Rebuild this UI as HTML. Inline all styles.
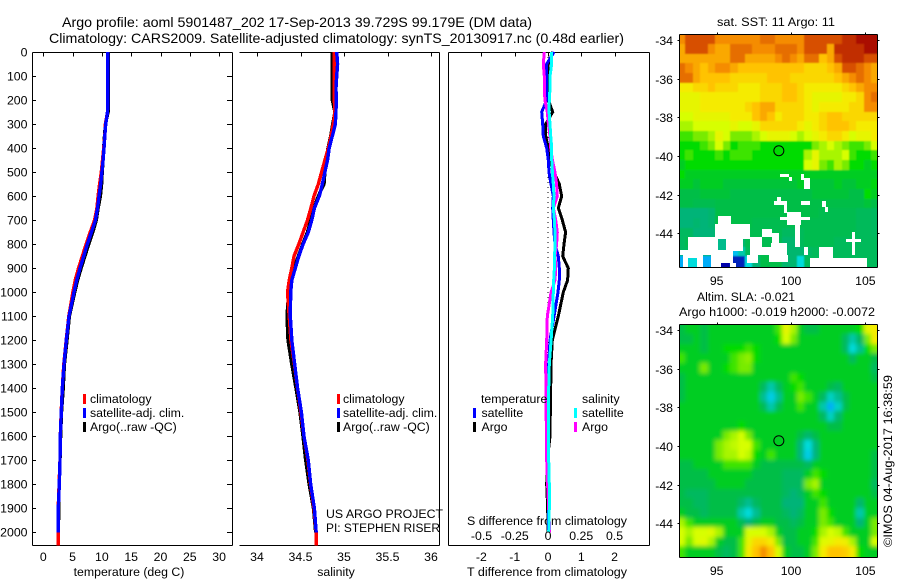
<!DOCTYPE html>
<html>
<head>
<meta charset="utf-8">
<title>Argo profile</title>
<style>
html,body{margin:0;padding:0;background:#fff;}
svg{display:block;}
text{font-family:"Liberation Sans",sans-serif;font-size:12.3px;fill:#000;}
</style>
</head>
<body>
<svg id="chart" xmlns="http://www.w3.org/2000/svg" width="900" height="580" viewBox="0 0 900 580">
  <defs>
    <filter id="sst-smooth" x="-5%" y="-5%" width="110%" height="110%"><feGaussianBlur stdDeviation="0.9"/></filter>
    <filter id="sla-smooth" x="-5%" y="-5%" width="110%" height="110%"><feGaussianBlur stdDeviation="2.2"/></filter>
  </defs>
  <rect width="900" height="580" fill="#fff"/>
  <text x="62" y="27" style="font-size:14px" textLength="470" lengthAdjust="spacingAndGlyphs">Argo profile: aoml 5901487_202 17-Sep-2013 39.729S 99.179E (DM data)</text>
  <text x="49" y="43" style="font-size:14px" textLength="575" lengthAdjust="spacingAndGlyphs">Climatology: CARS2009. Satellite-adjusted climatology: synTS_20130917.nc (0.48d earlier)</text>
  <text x="717" y="26" textLength="118" lengthAdjust="spacingAndGlyphs">sat. SST: 11 Argo: 11</text>
  <text x="697" y="301" textLength="98" lengthAdjust="spacingAndGlyphs">Altim. SLA: -0.021</text>
  <text x="679" y="316" textLength="196" lengthAdjust="spacingAndGlyphs">Argo h1000: -0.019 h2000: -0.0072</text>
  <text transform="translate(892,547) rotate(-90)" textLength="172" lengthAdjust="spacingAndGlyphs">©IMOS 04-Aug-2017 16:38:59</text>
  <text x="129" y="576" text-anchor="middle">temperature (deg C)</text>
  <text x="336" y="576" text-anchor="middle">salinity</text>
  <text x="467" y="576" textLength="160" lengthAdjust="spacingAndGlyphs">T difference from climatology</text>
  <text x="467" y="525" textLength="160" lengthAdjust="spacingAndGlyphs">S difference from climatology</text>
  <text x="326" y="518" textLength="117" lengthAdjust="spacingAndGlyphs">US ARGO PROJECT</text>
  <text x="326" y="532" textLength="114" lengthAdjust="spacingAndGlyphs">PI: STEPHEN RISER</text>
</svg>
<script>
// ---------- profile data ----------
const depthLevels = [0,50,100,150,200,250,300,350,400,450,500,550,600,650,700,750,800,850,900,950,1000,1100,1200,1300,1400,1500,1600,1700,1800,1900,2000,2055];
const depthTicks = [0,100,200,300,400,500,600,700,800,900,1000,1100,1200,1300,1400,1500,1600,1700,1800,1900,2000];
const temperatureTicks = [0,5,10,15,20,25,30];
const salinityTicks = [34,34.5,35,35.5,36];
const salinityTickLabels = ['34','34.5','35','35.5','36'];
const tempDiffTicks = [-2,-1,0,1,2];
const salDiffTicks = [-0.5,-0.25,0,0.25,0.5];
const salDiffTickLabels = ['-0.5','-0.25','0','0.25','0.5'];

const tempClimatology = [11,10.95,11,11,11,10.95,10.6,10.5,10.3,10.1,9.9,9.6,9.35,9.15,8.75,8.0,7.3,6.65,6.0,5.45,5.05,4.35,3.9,3.5,3.25,3.05,2.9,2.85,2.7,2.55,2.55,2.55];
const tempSatellite = [11,11,11,11,11,10.95,10.65,10.5,10.35,10.2,10,9.8,9.5,9.25,8.9,8.2,7.5,6.9,6.26,5.7,5.24,4.39,3.93,3.53,3.25,3.07,2.9,2.85,2.73,2.56,2.56];
const tempArgo = [11.05,11.05,11.05,11.05,11.05,11.05,10.6,10.45,10.3,10.2,10.05,9.95,9.75,9.35,9.05,8.45,7.75,7.1,6.45,5.85,5.35,4.45,4.05,3.6,3.4,3.1,2.95,2.85,2.7,2.65,2.56];

const salClimatology = [34.889,34.889,34.889,34.889,34.889,34.897,34.877,34.85,34.82,34.78,34.743,34.705,34.655,34.62,34.58,34.53,34.48,34.425,34.4,34.37,34.35,34.37,34.39,34.43,34.465,34.505,34.54,34.585,34.615,34.655,34.68,34.68];
const salSatellite = [34.916,34.927,34.916,34.908,34.91,34.908,34.9,34.866,34.83,34.81,34.78,34.75,34.716,34.66,34.63,34.59,34.53,34.48,34.44,34.4,34.387,34.383,34.4,34.433,34.467,34.51,34.54,34.59,34.617,34.66,34.68];
const salArgo = [34.866,34.866,34.866,34.866,34.866,34.895,34.87,34.847,34.816,34.793,34.78,34.77,34.705,34.655,34.617,34.58,34.525,34.475,34.425,34.387,34.364,34.345,34.356,34.4,34.448,34.494,34.529,34.56,34.6,34.65,34.675];

const tempDiffArgo = [0.14,0.01,-0.02,-0.02,0.01,0.14,-0.07,-0.07,0.01,0.04,0.18,0.34,0.41,0.31,0.43,0.53,0.48,0.44,0.61,0.59,0.46,0.31,0.13,0.09,0.08,0.07,0.06,-0.02,-0.04,-0.01,0];
const tempDiffSatellite = [0.18,-0.04,-0.04,-0.04,-0.04,-0.19,-0.16,-0.14,-0.04,0.01,0.03,0.09,0.16,0.14,0.16,0.18,0.21,0.31,0.34,0.34,0.30,0.18,0.06,0.02,0.01,0.01,0.01,0.01,0.01,0.01,0.01];
const salDiffSatellite = [0.028,0.028,0.015,0.015,0.01,0.008,0.015,0.02,0.028,0.028,0.033,0.04,0.045,0.04,0.048,0.053,0.053,0.05,0.048,0.043,0.04,0.035,0.023,0.01,0.005,0.003,0.003,0.005,0.01,0.01,0.005];
const salDiffArgo = [-0.028,-0.035,-0.028,-0.028,-0.023,-0.005,0.003,0.015,0.02,0.033,0.053,0.065,0.07,0.04,0.058,0.07,0.065,0.053,0.058,0.053,0.023,-0.005,-0.01,-0.018,-0.015,-0.015,-0.01,-0.01,-0.003,0.005,0.013];

// ---------- map data ----------
const lonTicks = [95,100,105];
const latTicks = [-34,-36,-38,-40,-42,-44];
const profileLon = 99.179;
const profileLat = -39.729;

// sea surface temperature, deg C, 0.5 degree cells, north to south, west to east
const sstValues = [
[13.5,14,14,14,14,13.5,13.5,13.5,13.5,13.5,13.5,13.75,13.75,13.5,13.5,13.5,13.5,14,14,14,14,14,14.25,14.25,14.5,14.5,14.5],
[13.25,14,14,14,13.5,13.25,13.25,13.75,13.75,13.75,13.5,13.5,13.5,13.75,13.75,13.75,13.5,14,14,14,13.25,14.25,14.25,14.25,14.25,14.5,14.5],
[13.25,13.25,13.25,13.25,13.25,13.25,13.25,13.75,13.75,13.25,13.25,13.25,13.25,13.5,13.75,13.5,13.25,13.75,13.75,13,13.25,14,14.25,14.25,14.25,14,14],
[13.75,13.5,13.25,13,13.25,13.5,13.5,13.25,13,13,13,13,13,13,13,13,13,12.75,12.75,12.75,13,13.25,14,14,13.75,13.5,13.25],
[13.75,13.75,13.25,13,13,13,13,12.75,12.75,12.75,12.75,12.75,13,13,13,12.75,12.75,12.75,12.75,12.75,12.75,13,13.25,13.5,13.75,13.5,13.25],
[12.5,12.5,12.75,12.75,13,12.75,12.75,12.75,12.5,12.5,12.5,12.75,12.75,12.75,13,13,12.75,12.5,12.5,12.5,12.5,12.5,12.75,13,13.25,13.5,13.5],
[12.25,12.25,12.25,12.5,12.5,12.5,12.5,12.5,12.5,12.5,12.5,12.75,12.75,12.75,13,13,12.75,12.5,12.25,12.25,12.25,12.25,12.5,12.5,12.75,13.5,13.75],
[12.25,12.25,12.25,12.5,12.5,12.5,12.5,12.5,12.5,12.75,13,13.25,13.25,12.75,12.75,12.75,12.75,12.5,12.25,12.5,12.5,12.5,12.5,12.75,12.75,13.5,13.5],
[12,12,12.25,12.25,12.25,12.25,12.25,12.5,12.5,12.5,13,13.25,13,12.5,12.75,12.75,12.75,12.5,12.5,12.75,13,13,12.75,12.75,12.75,12.75,12.75],
[11.75,11.75,12,12,12,12,12,12.25,12,12,12.25,12.75,12.75,12.75,12.75,12.75,12.5,12.25,12.5,12.75,13,13,13,12.75,12.5,12.5,12.5],
[11.25,11.25,11.5,11.5,11.75,12.25,12,11.5,11.5,11.5,11.75,12,12.25,12.25,12.25,12,11.75,12,12.25,12.5,12.75,12.75,12.5,12,12.25,12.25,12.5],
[11,11,11,11.25,11.5,12,11.5,11,11.25,11.25,11.25,11,11,11,11,11,11,11,11.5,11.75,12,11.75,11.5,11.25,11.25,11.5,12],
[11,11.25,11,11,11,11.25,11,11.25,11.25,11.25,11,11,11,11,11,11,11,11.75,12.25,11.75,11.75,11.75,12,11.25,11,11,11.25],
[10.75,11,11,11,11,11,11,11,11,11,11,11,11,11,11,11,11,12,12.25,11.5,11.25,11.75,11.5,11,11,10.75,11],
[11,10.75,10.75,10.75,10.75,10.75,10.75,10.75,10.75,10.75,10.75,10.75,10.75,10.75,10.75,10.75,10.75,10.75,10.75,10.75,10.75,10.75,10.75,10.75,10.75,10.75,10.75],
[10.75,10.75,10.6,10.75,10.75,10.75,10.6,10.6,10.6,10.6,10.6,10.6,10.6,10.6,10.6,10.6,10.75,10.6,10.6,10.6,10.6,10.75,10.6,10.6,10.75,10.75,10.9],
[10.5,10.5,10.5,10.6,10.6,10.6,10.6,10.5,10.5,10.5,10.5,10.5,10.5,10.5,10.5,10.5,10.5,10.5,10.6,10.6,10.6,10.6,10.6,10.5,10.5,11,10.75],
[10.5,10.5,10.4,10.4,10.4,10.5,10.5,10.5,10.5,10.5,10.5,10.5,10.5,10.5,10.5,10.5,10.5,10.5,10.5,10.5,10.5,10.5,10.5,10.5,10.5,10.6,10.5],
[10,10,10,10,10.1,10.5,10.5,10.5,10.5,10.5,10.5,10.5,10.5,10.5,10.5,10.5,10.5,10.5,10.5,10.4,10.4,10.4,10.4,10.4,10.3,10.3,10.25],
[10,10,10.1,10,10.1,10.5,10.5,10.5,10.5,10.5,10.4,10.4,10.4,10.4,10.4,10.4,10.4,10.4,10.4,10.4,10.4,10.4,10.4,10.4,10.3,10.3,10.25],
[10.25,10.25,10,10,10,10.4,10.4,10.4,10.4,10.4,10.4,10.4,10.4,10.4,10.25,10.25,10.3,10.4,10.4,10.4,10.4,10.4,10.4,10.4,10.3,10.3,10.25],
[10.25,10.4,10.4,10.4,10.4,9.9,9.9,10.4,10.1,10.4,10.4,10.4,10.4,10.4,10.1,10.1,10.3,10.4,10.4,10.4,10.4,10.3,10.3,10.3,10.3,10.3,10.3],
[10.25,10.25,10.25,10.25,10.25,9.9,9.9,9.25,9.75,10.3,10.3,10.4,10.4,10.4,10.1,10.1,10.1,10.2,10.3,10.3,10.3,10.3,10.3,10.3,10.3,10.3,10.3],
[9.1,9.5,9.5,9.1,9.1,8.5,8.5,8.6,8.6,9.5,10,10.5,10.5,10.5,10.1,10.1,9.5,10.3,10.3,10.3,10.3,10.3,10.3,10.3,10.3,10.3,10.3]
];

// cloud gaps in the SST field: [west lon, east lon, north lat, south lat]
const sstGaps = [
[99.25,99.85,-40.93,-41.1],[99.85,100.05,-41.1,-41.3],[100.7,100.9,-40.93,-41.25],[100.9,101.3,-41.15,-41.7],
[98.85,99.7,-42.33,-42.53],[99.05,99.3,-42.1,-42.33],[99.55,99.7,-42.53,-42.97],[99.25,101.25,-43.14,-43.3],
[99.7,100.7,-42.88,-43.57],[100.7,101.25,-42.33,-42.53],[102.1,102.35,-42.33,-42.62],[102.25,102.5,-42.62,-42.88],
[95.1,95.95,-43.1,-43.52],[94.9,97.25,-43.52,-44.17],[93.1,95.1,-44.17,-44.86],[95.1,95.65,-44.17,-44.3],
[95.65,96.75,-44.17,-44.9],[96.75,97.25,-44.17,-44.3],[97.25,98.05,-44.17,-45.12],[92.5,96.1,-44.86,-45.12],
[92.75,93.1,-45.12,-45.72],[93.1,93.65,-45.12,-45.29],[93.65,94.1,-45.12,-45.72],[94.65,96.1,-45.12,-45.55],
[94.65,95.3,-45.55,-45.72],[95.9,96.3,-45.55,-45.72],[97.05,97.8,-45.12,-45.55],[98.05,98.65,-44.69,-45.12],
[98.05,98.7,-43.8,-44.17],[98.7,99.2,-43.97,-44.52],[98.65,99.7,-44.52,-45.12],[98.5,99.8,-45.12,-45.5],
[100.25,100.6,-43.57,-44.69],[100.85,101.15,-44.69,-45.12],[101.9,102.85,-44.72,-45.29],[101.3,105.1,-45.29,-45.72],
[104.1,104.3,-43.91,-45.12],[103.7,104.7,-44.31,-44.47]
];

// sea level anomaly, cm, 0.5 degree cells, north to south, west to east
const slaValues = [
[-4,-2,-2,-4,-2,-2,-2,-2,-2,-2,-2,-2,-2,2,10,6,-2,-4,-4,-2,-2,-2,-2,-2,0,10,12],
[-4,-4,-2,-4,-2,-2,-2,-2,-2,-2,-2,-2,-2,0,8,4,-2,-2,-2,-2,-2,-2,-6,-10,-6,4,12],
[-2,-2,-2,-4,-2,-2,0,0,0,2,0,-2,-2,-2,-2,-2,-2,-2,-2,-2,-2,-2,-6,-12,-9,0,4],
[2,-2,-2,-2,-2,-2,-2,2,4,5,0,-2,-2,-2,-2,-2,-2,-2,-2,-2,-2,-2,-2,-6,-2,-2,-4],
[-2,-2,-2,4,-2,-2,0,2,4,4,-2,-2,-2,-2,-2,-2,-2,-2,-2,-2,-2,-2,-2,-2,-2,-2,-6],
[-4,-2,-2,-2,-2,-2,-2,-2,-2,-2,-2,-2,-2,-2,-2,2,0,-2,-2,-2,-2,-2,-2,-2,-2,-2,-4],
[-4,-2,-2,-2,-2,-2,-2,-2,-2,-2,-2,-6,-10,-6,-2,0,2,-2,-2,-2,-4,-6,-2,-2,-2,-2,-2],
[-4,-2,-2,-2,-2,-2,-2,-2,-2,-2,-2,-9,-13,-9,-2,-2,4,2,-2,-6,-11,-9,-4,-2,-2,-2,-2],
[-2,-2,-2,-2,-2,-2,-2,-2,-2,-2,-2,-5,-10,-5,-2,-2,2,-2,-2,-10,-15,-11,-4,-2,-2,-2,-2],
[-2,-2,-2,-2,-2,-2,-2,-2,-2,-2,-2,-2,-2,-2,-2,-2,-2,-2,-2,-6,-11,-7,-2,-2,-2,-2,-2],
[-2,-2,-2,-2,-2,-2,-2,-2,0,-2,-2,-2,-2,-2,-2,-2,-2,-2,-2,-2,-4,-4,-2,-2,-2,-2,-2],
[-2,-2,-2,-2,-2,-2,4,6,8,4,-2,-2,-2,-2,-2,-2,-4,-7,-4,-2,-2,-2,-2,-2,-2,-2,-2],
[-2,-2,-2,-2,-2,4,6,7,8,8,2,-2,-2,-2,-2,-2,-8,-12,-8,-2,-2,-2,-2,-2,-2,-2,-2],
[-2,-2,-2,-2,-2,4,6,6,8,7,0,-2,2,-2,-2,-2,-8,-13,-8,-2,-2,-2,-2,-2,-2,-2,-4],
[-4,-4,-2,-2,-2,-2,2,2,2,2,-2,-4,-4,-4,-4,-4,-4,-6,-2,-2,-2,-2,-2,-2,-2,-2,-4],
[-4,-4,-4,-4,-2,-2,-2,-2,-2,-2,-4,-4,-4,-4,-6,-6,-6,-2,2,0,-2,-2,-2,-2,-2,-2,-4],
[-4,-4,-4,-4,-4,-2,-2,-2,-2,-4,-4,-4,-4,-4,-6,-6,-6,4,6,-2,-2,-2,-2,-2,-2,-2,-6],
[-4,-6,-6,-6,-4,-4,-4,-4,-4,-4,-4,-4,-4,-4,-6,-8,-6,-2,2,0,-2,-2,-2,-2,-2,-2,-4],
[-4,-4,-6,-6,-4,-4,-4,-4,-7,-9,-6,-4,-4,-4,-8,-8,-8,-2,-2,2,-2,-2,-2,-2,-7,-2,-2],
[-2,-4,-4,-6,-4,-4,-4,-4,-10,-12,-9,-4,-4,-4,-6,-8,-6,-2,-2,4,0,-2,-2,-2,-10,-2,-2],
[6,2,-2,-2,-2,-2,-2,-2,-5,-8,-4,-2,-2,-4,-4,-6,-4,-2,-2,4,2,-2,-2,-2,-8,-2,4],
[8,6,8,8,9,6,-2,-2,-2,8,8,8,6,-2,-4,-4,-2,-2,0,6,8,7,2,-2,-2,-2,4],
[8,4,8,9,6,-2,-4,-4,2,10,14,14,12,4,-4,-4,-2,-2,2,9,10,12,11,6,-2,-2,8],
[2,-2,-2,-2,-2,-4,-6,-4,2,12,16,20,16,8,-2,-4,-4,-2,4,12,16,16,15,12,0,-2,-2]
];

// ---------- colour ramp ----------
const colorRamp = [[0,0,170],[0,160,255],[0,220,220],[0,180,120],[0,190,70],[0,220,0],[120,235,0],[215,255,0],[245,235,0],[255,195,0],[245,140,0],[215,80,0],[170,10,0]];
function rampColor(level){
  const l = Math.max(0, Math.min(colorRamp.length - 1.001, level));
  const i = Math.floor(l), f = l - i;
  const a = colorRamp[i], b = colorRamp[i + 1];
  return 'rgb(' + [0,1,2].map(k => Math.round(a[k] + (b[k] - a[k]) * f)).join(',') + ')';
}
function sstColor(t){ return rampColor((t - 8.5) * 2); }
function slaColor(cm){ return rampColor(cm / 4 + 5); }

// ---------- axis functions ----------
const svg = document.getElementById('chart');
const NS = 'http://www.w3.org/2000/svg';
function depthY(d){ return 52 + d * 0.2402; }
function tempX(t){ return 43.3 + t * 5.86; }
function salX(s){ return 257 + (s - 34) * 87; }
function tDiffX(v){ return 548 + v * 33.3; }
function sDiffX(v){ return 548 + v * 133; }
function lonX(lon){ return 716.7 + (lon - 95) * 14.87; }
function latOffset(lat){ return (-34 - lat) * 19.33; }
const sstLatY = lat => 40 + latOffset(lat);
const slaLatY = lat => 330 + latOffset(lat);

function mk(tag, attrs, parent){
  const el = document.createElementNS(NS, tag);
  for (const k in attrs) el.setAttribute(k, attrs[k]);
  (parent || svg).appendChild(el);
  return el;
}
function tickLine(x1, y1, x2, y2, name){
  const el = mk('line', {x1:x1, y1:y1, x2:x2, y2:y2, stroke:'#000', 'stroke-width':1, 'shape-rendering':'crispEdges'});
  
  
  return el;
}
function label(x, y, txt, anchor, name){
  const el = mk('text', {x:x, y:y, 'text-anchor':anchor});
  el.textContent = txt;
  
  
  return el;
}
function profileLine(values, xFn, color, width, name){
  const pts = values.map((v, i) => xFn(v).toFixed(1) + ',' + depthY(depthLevels[i]).toFixed(1)).join(' ');
  const el = mk('polyline', {points:pts, fill:'none', stroke:color, 'stroke-width':width, 'shape-rendering':'crispEdges'});
  
  
  return el;
}
function legendMark(x, y, color, name){
  const el = mk('rect', {x:x, y:y, width:3, height:10, fill:color});
  
  
  return el;
}

// ---------- panel frames ----------
const TOP = 52.5, BOTTOM = 545.5;
function frameEdge(x1, y1, x2, y2, name){ tickLine(x1, y1, x2, y2, name); }
frameEdge(32.5, TOP, 232.5, TOP, 'temperature-panel-top');
frameEdge(32.5, BOTTOM, 232.5, BOTTOM, 'temperature-panel-bottom');
frameEdge(32.5, TOP, 32.5, BOTTOM, 'temperature-panel-left');
frameEdge(232.5, TOP, 232.5, BOTTOM, 'temperature-panel-right');
frameEdge(239.5, TOP, 439.5, TOP, 'salinity-panel-top');
frameEdge(239.5, BOTTOM, 439.5, BOTTOM, 'salinity-panel-bottom');
frameEdge(439.5, TOP, 439.5, BOTTOM, 'salinity-panel-right');
frameEdge(448.5, TOP, 649.5, TOP, 'difference-panel-top');
frameEdge(448.5, BOTTOM, 649.5, BOTTOM, 'difference-panel-bottom');
frameEdge(448.5, TOP, 448.5, BOTTOM, 'difference-panel-left');
frameEdge(649.5, TOP, 649.5, BOTTOM, 'difference-panel-right');

// depth ticks and labels
depthTicks.forEach(d => {
  const y = Math.round(depthY(d)) + 0.5;
  tickLine(32.5, y, 36, y, 'depth-tick-left');
  tickLine(227, y, 232.5, y, 'depth-tick-right');
  label(27.5, Math.round(depthY(d)) + 4.5, String(d), 'end', 'depth-tick-label');
});
// x axes
temperatureTicks.forEach(t => {
  const x = Math.round(tempX(t)) + 0.5;
  tickLine(x, TOP, x, TOP + 4, 'temperature-tick');
  label(tempX(t), 561, String(t), 'middle', 'temperature-tick-label');
});
salinityTicks.forEach((s, i) => {
  const x = Math.round(salX(s)) + 0.5;
  tickLine(x, TOP, x, TOP + 4, 'salinity-tick');
  label(salX(s), 561, salinityTickLabels[i], 'middle', 'salinity-tick-label');
});
tempDiffTicks.forEach(v => {
  const x = Math.round(tDiffX(v)) + 0.5;
  tickLine(x, TOP, x, TOP + 4, 't-difference-tick');
  label(tDiffX(v), 561, String(v), 'middle', 't-difference-tick-label');
});

// ---------- profile series ----------
profileLine(tempArgo, tempX, '#000', 3.4, 'temperature-argo-line');
profileLine(tempClimatology, tempX, '#f00', 3.4, 'temperature-climatology-line');
profileLine(tempSatellite, tempX, '#00f', 3.4, 'temperature-satellite-line');

profileLine(salArgo, salX, '#000', 3.4, 'salinity-argo-line');
profileLine(salClimatology, salX, '#f00', 3.4, 'salinity-climatology-line');
profileLine(salSatellite, salX, '#00f', 3.4, 'salinity-satellite-line');

const zeroLine = mk('line', {x1:tDiffX(0), y1:depthY(0), x2:tDiffX(0), y2:depthY(2000), stroke:'#000', 'stroke-width':1, 'stroke-dasharray':'1 4', 'shape-rendering':'crispEdges'});



profileLine(tempDiffArgo, tDiffX, '#000', 3, 'temperature-difference-argo-line');
profileLine(tempDiffSatellite, tDiffX, '#00f', 3, 'temperature-difference-satellite-line');
profileLine(salDiffArgo, sDiffX, '#f0f', 3, 'salinity-difference-argo-line');
profileLine(salDiffSatellite, sDiffX, '#0ff', 3, 'salinity-difference-satellite-line');

// S-difference tick labels sit above the series
salDiffTicks.forEach((v, i) => {
  label(sDiffX(v), 540, salDiffTickLabels[i], 'middle', 's-difference-tick-label');
});

// ---------- legends ----------
legendMark(83, 394, '#f00', 'temperature-legend-climatology-mark');
legendMark(83, 408, '#00f', 'temperature-legend-satellite-mark');
legendMark(83, 422, '#000', 'temperature-legend-argo-mark');
label(90, 403, 'climatology', 'start', 'temperature-legend-climatology');
label(90, 417, 'satellite-adj. clim.', 'start', 'temperature-legend-satellite');
label(90, 431, 'Argo(..raw -QC)', 'start', 'temperature-legend-argo');

legendMark(337, 394, '#f00', 'salinity-legend-climatology-mark');
legendMark(337, 408, '#00f', 'salinity-legend-satellite-mark');
legendMark(337, 422, '#000', 'salinity-legend-argo-mark');
label(343, 403, 'climatology', 'start', 'salinity-legend-climatology');
label(343, 417, 'satellite-adj. clim.', 'start', 'salinity-legend-satellite');
label(343, 431, 'Argo(..raw -QC)', 'start', 'salinity-legend-argo');

label(481, 403, 'temperature', 'start', 'difference-legend-temperature-heading');
label(481.5, 417, 'satellite', 'start', 'difference-legend-temperature-satellite');
label(481.5, 431, 'Argo', 'start', 'difference-legend-temperature-argo');
legendMark(473, 408, '#00f', 'difference-legend-temperature-satellite-mark');
legendMark(473, 422, '#000', 'difference-legend-temperature-argo-mark');
label(582, 403, 'salinity', 'start', 'difference-legend-salinity-heading');
label(582, 417, 'satellite', 'start', 'difference-legend-salinity-satellite');
label(582, 431, 'Argo', 'start', 'difference-legend-salinity-argo');
legendMark(574, 408, '#0ff', 'difference-legend-salinity-satellite-mark');
legendMark(574, 422, '#f0f', 'difference-legend-salinity-argo-mark');

// ---------- maps ----------
const MAP_LEFT = 679.5, MAP_RIGHT = 877.5;
const CELL_DEG = 0.5, FIRST_LON = 92.4, FIRST_LAT = -33.7;
function drawMap(id, top, bottom, yFn, values, colorFn, cellName, smoothId){
  const defs = mk('defs', {});
  const clip = mk('clipPath', {id:id}, defs);
  mk('rect', {x:MAP_LEFT, y:top, width:MAP_RIGHT - MAP_LEFT, height:bottom - top}, clip);
  const outer = mk('g', {'clip-path':'url(#' + id + ')', 'shape-rendering':'crispEdges'});
  
  
  const g = mk('g', {filter:'url(#' + smoothId + ')'}, outer);
  
  
  values.forEach((row, r) => {
    row.forEach((v, c) => {
      let x0 = Math.round(lonX(FIRST_LON + c * CELL_DEG));
      let x1 = Math.round(lonX(FIRST_LON + (c + 1) * CELL_DEG));
      let y0 = Math.round(yFn(FIRST_LAT - r * CELL_DEG));
      let y1 = Math.round(yFn(FIRST_LAT - (r + 1) * CELL_DEG));
      // edge cells bleed past the clip so smoothing does not fade the map border
      if (c === 0) x0 -= 8;
      if (c === row.length - 1) x1 += 8;
      if (r === 0) y0 -= 8;
      if (r === values.length - 1) y1 += 8;
      const cell = mk('rect', {x:x0, y:y0, width:x1 - x0, height:y1 - y0, fill:colorFn(v)}, g);
      
      
    });
  });
  return outer;
}
function drawMapAxes(top, bottom, yFn, prefix, xLabelY){
  tickLine(MAP_LEFT, top, MAP_RIGHT, top, prefix + '-frame-top');
  tickLine(MAP_LEFT, bottom, MAP_RIGHT, bottom, prefix + '-frame-bottom');
  tickLine(MAP_LEFT, top, MAP_LEFT, bottom, prefix + '-frame-left');
  tickLine(MAP_RIGHT, top, MAP_RIGHT, bottom, prefix + '-frame-right');
  lonTicks.forEach(lon => {
    const x = Math.round(lonX(lon)) + 0.5;
    tickLine(x, top - 2, x, top, prefix + '-lon-tick');
    label(lonX(lon), xLabelY, String(lon), 'middle', prefix + '-lon-tick-label');
  });
  latTicks.forEach(lat => {
    const y = Math.round(yFn(lat)) + 0.5;
    tickLine(MAP_RIGHT, y, MAP_RIGHT + 2, y, prefix + '-lat-tick');
    tickLine(MAP_LEFT - 2, y, MAP_LEFT, y, prefix + '-lat-tick-left');
    label(673, Math.round(yFn(lat)) + 5, String(lat), 'end', prefix + '-lat-tick-label');
  });
  const ring = mk('circle', {cx:lonX(profileLon), cy:yFn(profileLat), r:5, fill:'none', stroke:'#000', 'stroke-width':1});
  
  
}

const sstGrid = drawMap('sst-clip', 34.5, 267.5, sstLatY, sstValues, sstColor, 'sst-cell', 'sst-smooth');
sstGaps.forEach(g => {
  const x0 = Math.round(lonX(g[0])), x1 = Math.round(lonX(g[1]));
  const y0 = Math.round(sstLatY(g[2])), y1 = Math.round(sstLatY(g[3]));
  const gap = mk('rect', {x:x0, y:y0, width:x1 - x0, height:y1 - y0, fill:'#fff'}, sstGrid);
  
  
});
drawMapAxes(34.5, 267.5, sstLatY, 'sst-map', 285);

drawMap('sla-clip', 324.5, 557.5, slaLatY, slaValues, slaColor, 'sla-cell', 'sla-smooth');
drawMapAxes(324.5, 557.5, slaLatY, 'sla-map', 575);
</script>
</body>
</html>
